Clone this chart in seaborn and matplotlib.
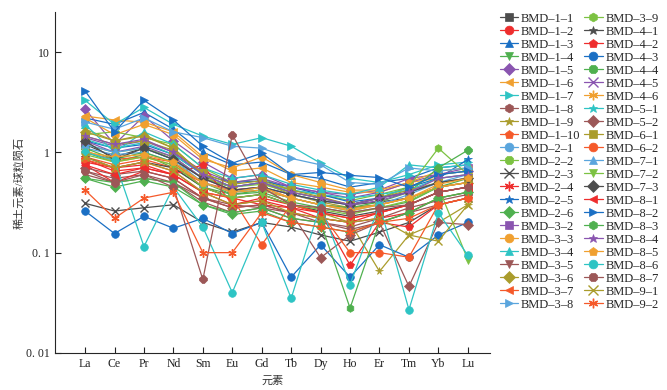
import numpy as np
import pandas as pd
import seaborn as sns
import matplotlib.pyplot as plt

elements = ["La", "Ce", "Pr", "Nd", "Sm", "Eu", "Gd", "Tb", "Dy", "Ho", "Er", "Tm", "Yb", "Lu"]

samples = ["BMD–1–1", "BMD–1–2", "BMD–1–3", "BMD–1–4", "BMD–1–5", "BMD–1–6", "BMD–1–7", "BMD–1–8",
           "BMD–1–9", "BMD–1–10", "BMD–2–1", "BMD–2–2", "BMD–2–3", "BMD–2–4", "BMD–2–5", "BMD–2–6",
           "BMD–3–2", "BMD–3–3", "BMD–3–4", "BMD–3–5", "BMD–3–6", "BMD–3–7", "BMD–3–8", "BMD–3–9",
           "BMD–4–1", "BMD–4–2", "BMD–4–3", "BMD–4–4", "BMD–4–5", "BMD–4–6", "BMD–5–1", "BMD–5–2",
           "BMD–6–1", "BMD–6–2", "BMD–7–1", "BMD–7–2", "BMD–7–3", "BMD–8–1", "BMD–8–2", "BMD–8–3",
           "BMD–8–4", "BMD–8–5", "BMD–8–6", "BMD–8–7", "BMD–9–1", "BMD–9–2"]

# chondrite-normalised REE
ree = [
    [1.2, 0.9, 1.1, 0.85, 0.55, 0.45, 0.5, 0.4, 0.35, 0.3, 0.32, 0.35, 0.45, 0.5],
    [0.8, 0.7, 0.75, 0.6, 0.4, 0.35, 0.3, 0.28, 0.22, 0.2, 0.25, 0.3, 0.4, 0.45],
    [2.2, 1.9, 2.5, 1.7, 1.0, 0.75, 0.8, 0.6, 0.55, 0.45, 0.5, 0.55, 0.7, 0.75],
    [1.0, 0.8, 0.95, 0.7, 0.45, 0.38, 0.4, 0.32, 0.28, 0.25, 0.28, 0.32, 0.45, 0.55],
    [2.7, 1.2, 2.3, 1.3, 0.8, 0.55, 0.6, 0.45, 0.4, 0.38, 0.42, 0.55, 0.6, 0.65],
    [2.3, 2.1, 2.0, 1.6, 0.9, 0.65, 0.7, 0.5, 0.45, 0.4, 0.4, 0.5, 0.55, 0.6],
    [3.3, 1.9, 2.8, 1.9, 1.45, 1.2, 1.4, 1.15, 0.78, 0.55, 0.5, 0.6, 0.75, 0.8],
    [0.65, 0.55, 0.6, 0.5, 0.35, 0.3, 0.28, 0.25, 0.2, 0.18, 0.22, 0.28, 0.33, 0.38],
    [1.7, 1.3, 1.5, 1.1, 0.6, 0.4, 0.45, 0.3, 0.25, 0.2, 0.065, 0.15, 0.2, 0.3],
    [0.9, 0.75, 0.85, 0.7, 0.5, 0.42, 0.45, 0.35, 0.3, 0.28, 0.3, 0.35, 0.45, 0.5],
    [1.1, 0.95, 1.0, 0.8, 0.5, 0.4, 0.42, 0.35, 0.3, 0.26, 0.3, 0.38, 0.5, 0.55],
    [1.5, 1.6, 1.4, 1.2, 0.7, 0.5, 0.55, 0.42, 0.38, 0.33, 0.38, 0.45, 0.6, 0.65],
    [0.31, 0.26, 0.28, 0.3, 0.2, 0.16, 0.2, 0.18, 0.15, 0.13, 0.16, 0.2, 0.3, 0.35],
    [0.75, 0.5, 0.65, 0.55, 0.35, 0.28, 0.3, 0.25, 0.22, 0.2, 0.22, 0.25, 0.35, 0.4],
    [1.3, 1.1, 1.2, 0.95, 0.6, 0.5, 0.52, 0.45, 0.38, 0.32, 0.35, 0.45, 0.55, 0.85],
    [0.55, 0.45, 0.52, 0.45, 0.3, 0.24, 0.26, 0.2, 0.18, 0.16, 0.2, 0.25, 0.35, 0.4],
    [1.4, 1.15, 1.3, 1.0, 0.65, 0.5, 0.55, 0.45, 0.4, 0.35, 0.4, 0.5, 0.6, 0.7],
    [2.2, 1.5, 1.9, 1.5, 0.85, 0.7, 0.9, 0.6, 0.5, 0.42, 0.42, 0.5, 0.65, 0.7],
    [1.9, 1.0, 1.6, 1.2, 0.7, 0.55, 0.6, 0.48, 0.42, 0.38, 0.45, 0.75, 0.7, 0.75],
    [0.6, 0.5, 0.55, 0.5, 0.32, 0.25, 0.28, 0.22, 0.2, 0.17, 0.2, 0.25, 0.3, 0.35],
    [1.6, 1.3, 1.45, 1.1, 0.6, 0.45, 0.5, 0.38, 0.32, 0.28, 0.3, 0.35, 0.45, 0.5],
    [1.0, 0.85, 0.9, 0.8, 0.45, 0.35, 0.38, 0.3, 0.25, 0.22, 0.25, 0.3, 0.4, 0.45],
    [2.0, 1.7, 2.2, 1.6, 1.4, 1.15, 1.1, 0.87, 0.75, 0.5, 0.48, 0.7, 0.65, 0.7],
    [1.2, 1.0, 1.1, 0.9, 0.55, 0.45, 0.48, 0.4, 0.35, 0.3, 0.35, 0.45, 1.1, 0.6],
    [0.9, 0.7, 0.8, 0.7, 0.45, 0.35, 0.38, 0.3, 0.26, 0.23, 0.26, 0.3, 0.4, 0.45],
    [0.85, 0.65, 0.7, 0.6, 0.75, 0.3, 0.35, 0.3, 0.25, 0.075, 0.2, 0.18, 0.3, 0.35],
    [0.26, 0.155, 0.23, 0.175, 0.22, 0.155, 0.2, 0.057, 0.12, 0.057, 0.12, 0.09, 0.15, 0.2],
    [1.1, 0.85, 1.0, 0.8, 0.5, 0.38, 0.42, 0.35, 0.3, 0.28, 0.32, 0.4, 0.7, 1.05],
    [1.3, 1.0, 1.15, 0.9, 0.55, 0.42, 0.45, 0.38, 0.33, 0.3, 0.33, 0.4, 0.5, 0.55],
    [1.05, 0.8, 0.9, 0.75, 0.5, 0.4, 0.42, 0.35, 0.3, 0.27, 0.3, 0.35, 0.45, 0.5],
    [1.35, 1.1, 1.25, 0.95, 0.6, 0.45, 0.5, 0.42, 0.38, 0.35, 0.38, 0.42, 0.55, 0.6],
    [0.7, 0.6, 0.65, 0.55, 0.35, 0.28, 0.3, 0.25, 0.089, 0.15, 0.2, 0.046, 0.2, 0.19],
    [1.45, 1.2, 1.3, 1.05, 0.62, 0.48, 0.52, 0.42, 0.36, 0.3, 0.35, 0.42, 0.5, 0.55],
    [0.85, 0.7, 0.8, 0.65, 0.4, 0.35, 0.12, 0.3, 0.25, 0.1, 0.1, 0.09, 0.3, 0.35],
    [1.2, 1.0, 1.1, 0.85, 0.5, 0.4, 0.45, 0.38, 0.33, 0.3, 0.35, 0.4, 0.5, 0.6],
    [0.95, 0.8, 0.9, 0.75, 0.45, 0.35, 0.38, 0.3, 0.27, 0.24, 0.28, 0.33, 0.45, 0.085],
    [1.3, 0.85, 1.1, 0.85, 0.55, 0.42, 0.45, 0.38, 0.33, 0.3, 0.35, 0.4, 0.5, 0.55],
    [0.75, 0.6, 0.7, 0.6, 0.4, 0.3, 0.33, 0.28, 0.25, 0.22, 0.25, 0.3, 0.4, 0.45],
    [4.1, 1.6, 3.3, 2.1, 1.15, 0.78, 0.98, 0.6, 0.63, 0.59, 0.56, 0.45, 0.6, 0.65],
    [0.55, 0.5, 0.55, 0.5, 0.3, 0.25, 0.28, 0.22, 0.2, 0.028, 0.2, 0.25, 0.35, 0.4],
    [1.45, 1.2, 1.35, 1.0, 0.6, 0.45, 0.5, 0.4, 0.35, 0.3, 0.35, 0.4, 0.55, 0.6],
    [1.0, 0.9, 0.95, 0.8, 0.5, 0.4, 0.45, 0.35, 0.3, 0.26, 0.3, 0.35, 0.48, 0.55],
    [1.0, 0.83, 0.115, 0.45, 0.18, 0.04, 0.2, 0.035, 0.3, 0.048, 0.3, 0.027, 0.25, 0.094],
    [0.65, 0.5, 0.6, 0.45, 0.054, 1.5, 0.45, 0.3, 0.28, 0.25, 0.28, 0.3, 0.4, 0.45],
    [0.9, 0.7, 0.8, 0.65, 0.4, 0.3, 0.33, 0.25, 0.22, 0.2, 0.22, 0.15, 0.13, 0.3],
    [0.42, 0.22, 0.35, 0.4, 0.1, 0.1, 0.25, 0.2, 0.18, 0.16, 0.2, 0.22, 0.3, 0.35],
]

# Origin-like colour / symbol cycles
color_cycle = ["#4d4d4d", "#ee2d2d", "#1a6fc4", "#4fb04f", "#8a55b0", "#f0a030",
               "#2ec4c4", "#9c5757", "#aa9c2c", "#f5592a", "#5aa5dd", "#7cc242"]
marker_cycle = ["s", "o", "^", "v", "D", "<", ">", "h", "*", "p", "o", "8",
                "x", (6, 2, 0), "*", "D"]

sns.set_theme(style="ticks")
plt.rcParams["font.family"] = ["Liberation Serif", "Noto Sans CJK SC"]
plt.rcParams["axes.unicode_minus"] = False

fig = plt.figure(figsize=(6.67, 3.9), dpi=100)
ax = fig.add_axes([0.0825, 0.095, 0.652, 0.874])

xpos = np.arange(len(elements))
for i, (s, vals) in enumerate(zip(samples, ree)):
    c = color_cycle[i % 12]
    m = marker_cycle[i % 16]
    line_art = m in ("x",) or isinstance(m, tuple)
    sns.lineplot(x=xpos, y=vals, color=c, marker=m, markersize=6 if line_art else 5.5,
                 markeredgecolor=c, markeredgewidth=1.0 if line_art else 0.5,
                 linewidth=0.9, label=s, ax=ax, sort=False)

ax.set_yscale("log")
ax.set_ylim(0.01, 25)
ax.set_xlim(-1.02, 13.75)
ax.set_xticks(xpos)
ax.set_xticklabels(elements)
ax.set_yticks([0.01, 0.1, 1, 10])
ax.set_yticklabels(["0. 01", "0. 1", "1", "10"])
ax.yaxis.set_minor_locator(plt.NullLocator())
ax.tick_params(direction="in", length=4, width=0.8, labelsize=8.5, colors="#222222")
ax.set_xlabel("元素", fontsize=8, color="#333333")
ax.set_ylabel("稀土元素/球粒陨石", fontsize=8, color="#333333", labelpad=1)
sns.despine(ax=ax)
for sp in ax.spines.values():
    sp.set_linewidth(0.8)

ax.legend(loc="upper left", bbox_to_anchor=(0.742, 0.98),
          bbox_transform=fig.transFigure, ncol=2, frameon=False,
          fontsize=9, labelspacing=0.08, handlelength=1.45, handletextpad=0.25,
          columnspacing=0.3, borderaxespad=0, markerscale=1.15)

fig.savefig("out.png", dpi=100)
